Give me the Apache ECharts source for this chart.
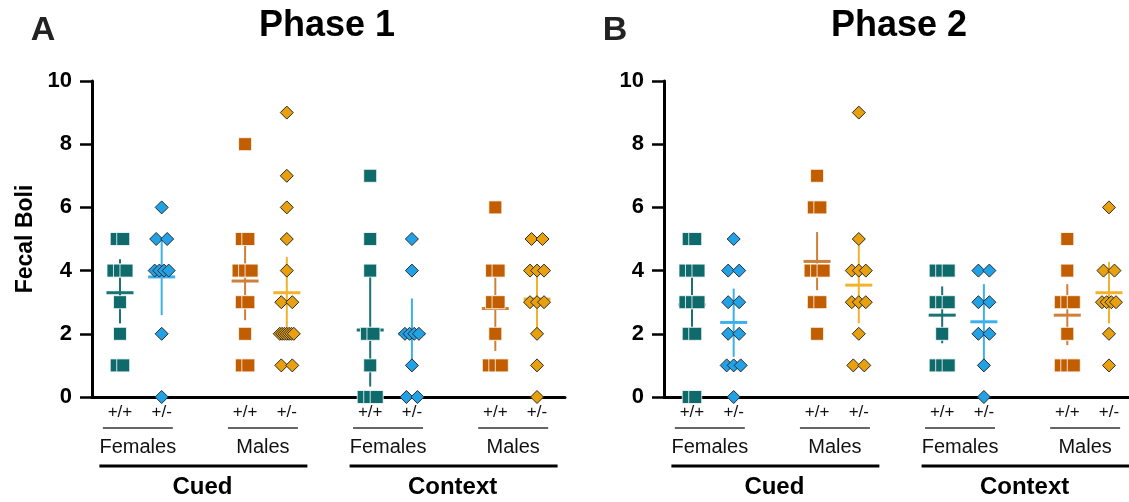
<!DOCTYPE html>
<html>
<head>
<meta charset="utf-8">
<script src="https://cdn.jsdelivr.net/npm/echarts@6/dist/echarts.min.js"></script>
<style>
html,body{margin:0;padding:0;background:#fff;}
#chart{width:1129px;height:502px;}
</style>
</head>
<body>
<div id="chart"></div>
<script>
// ---------------- DATA ----------------
const positions = [0, 1, 3, 4, 6, 7, 9, 10];
const tickLabels = ['+/+', '+/-', '+/+', '+/-', '+/+', '+/-', '+/+', '+/-'];
const sexLabels = ['Females', 'Males', 'Females', 'Males'];
const sexCenters = [0.5, 3.5, 6.5, 9.5];
const protocolLabels = ['Cued', 'Context'];
const protocolCenters = [2, 8];
const yTicks = [0, 2, 4, 6, 8, 10];

// groups: Cued F +/+, Cued F +/-, Cued M +/+, Cued M +/-, Context F +/+, Context F +/-, Context M +/+, Context M +/-
const phase1Points = [
  [5, 5, 4, 4, 4, 3, 2, 1, 1],
  [6, 5, 5, 4, 4, 4, 4, 2, 0],
  [8, 5, 5, 4, 4, 4, 3, 3, 2, 1, 1],
  [9, 7, 6, 5, 4, 3, 3, 2, 2, 2, 2, 2, 2, 2, 1, 1],
  [7, 5, 4, 2, 2, 1, 0, 0, 0],
  [5, 4, 2, 2, 2, 2, 1, 0, 0],
  [6, 4, 4, 3, 3, 2, 1, 1, 1],
  [5, 5, 4, 4, 4, 3, 3, 3, 2, 1, 0]
];
const phase1Mean = [3.3, 3.8, 3.67, 3.3, 2.12, 2.0, 2.8, 3.1];
const phase1Lo   = [2.33, 2.59, 2.43, 2.2, 0.33, 0.9, 1.46, 2.1];
const phase1Hi   = [4.36, 4.96, 4.78, 4.43, 3.8, 3.12, 4.1, 4.05];

const phase2Points = [
  [5, 5, 4, 4, 4, 3, 3, 3, 2, 2, 0, 0],
  [5, 4, 4, 3, 3, 2, 2, 1, 1, 1, 0],
  [7, 6, 6, 4, 4, 4, 3, 3, 2],
  [9, 5, 4, 4, 4, 3, 3, 3, 2, 1, 1],
  [4, 4, 4, 3, 3, 3, 2, 1, 1, 1],
  [4, 4, 3, 3, 2, 2, 1, 0],
  [5, 4, 3, 3, 3, 2, 1, 1, 1],
  [6, 4, 4, 3, 3, 3, 3, 2, 1]
];
const phase2Mean = [2.92, 2.36, 4.29, 3.54, 2.59, 2.38, 2.59, 3.3];
const phase2Lo   = [2.0, 1.27, 3.38, 2.33, 1.7, 1.07, 1.64, 2.33];
const phase2Hi   = [3.8, 3.43, 5.22, 4.8, 3.5, 3.57, 3.57, 4.27];

// ---------------- STYLE ----------------
const groupStyle = [0, 1, 2, 3, 0, 1, 2, 3];
const styles = [
  { symbol: 'rect',    fill: '#0f6b6b', border: '#ffffff', bw: 0.8, line: '#1b7272' },
  { symbol: 'diamond', fill: '#22a2e6', border: '#2b2b2b', bw: 1,   line: '#3cb0ec' },
  { symbol: 'rect',    fill: '#c25e00', border: '#ffffff', bw: 0.8, line: '#d08036' },
  { symbol: 'diamond', fill: '#e8a00c', border: '#2b2b2b', bw: 1,   line: '#f3b22c' }
];
const pxPerUnit = 41.7;
const FONT = '"Liberation Sans", Arial, Helvetica, sans-serif';

function jitter(values, isDiamond) {
  const counts = {}, seen = {};
  values.forEach(v => { counts[v] = (counts[v] || 0) + 1; });
  return values.map(v => {
    const n = counts[v];
    const k = seen[v] || 0; seen[v] = k + 1;
    if (n === 1) return 0;
    let sp;
    if (isDiamond) sp = n === 2 ? 11 : n === 3 ? 7 : 14 / (n - 1);
    else sp = n <= 3 ? 6.5 : 20 / (n - 1);
    return ((k - (n - 1) / 2) * sp) / pxPerUnit;
  });
}

function panelSeries(pIdx, points, mean, lo, hi) {
  const out = [];
  out.push({
    type: 'custom',
    xAxisIndex: pIdx, yAxisIndex: pIdx,
    z: 2,
    clip: false,
    encode: { x: 0, y: [1, 2, 3] },
    data: positions.map((p, i) => [p, mean[i], lo[i], hi[i], i]),
    renderItem: function (params, api) {
      const x = api.value(0);
      const m = api.coord([x, api.value(1)]);
      const l = api.coord([x, api.value(2)]);
      const h = api.coord([x, api.value(3)]);
      const col = styles[groupStyle[api.value(4)]].line;
      return {
        type: 'group',
        children: [
          { type: 'line', shape: { x1: m[0], y1: l[1], x2: m[0], y2: h[1] }, style: { stroke: col, lineWidth: 2 } },
          { type: 'line', shape: { x1: m[0] - 13.5, y1: m[1], x2: m[0] + 13.5, y2: m[1] }, style: { stroke: col, lineWidth: 3 } }
        ]
      };
    }
  });
  points.forEach((vals, i) => {
    const st = styles[groupStyle[i]];
    const isD = st.symbol === 'diamond';
    const off = jitter(vals, isD);
    out.push({
      type: 'scatter',
      xAxisIndex: pIdx, yAxisIndex: pIdx,
      z: 4,
      clip: false,
      symbol: st.symbol,
      symbolSize: 13,
      itemStyle: { color: st.fill, borderColor: st.border, borderWidth: st.bw, opacity: 1 },
      emphasis: { disabled: true },
      data: vals.map((v, k) => [positions[i] + off[k], v])
    });
  });
  out.push({
    type: 'custom',
    xAxisIndex: pIdx, yAxisIndex: pIdx,
    clip: false,
    silent: true,
    encode: { x: 0, y: 1 },
    data: sexCenters.map((c, i) => [c, 0, i]),
    renderItem: function (params, api) {
      const b = api.coord([api.value(0), 0]);
      const cx = b[0] - 3;
      return {
        type: 'group',
        children: [
          { type: 'line', shape: { x1: cx - 35, y1: b[1] + 31, x2: cx + 35, y2: b[1] + 31 }, style: { stroke: '#333', lineWidth: 1.6 } },
          { type: 'text', style: { text: sexLabels[api.value(2)], x: cx, y: b[1] + 50, align: 'center', verticalAlign: 'middle', fill: '#111', font: '20px ' + FONT } }
        ]
      };
    }
  });
  out.push({
    type: 'custom',
    xAxisIndex: pIdx, yAxisIndex: pIdx,
    clip: false,
    silent: true,
    encode: { x: 0, y: 1 },
    data: protocolCenters.map((c, i) => [c, 0, i]),
    renderItem: function (params, api) {
      const b = api.coord([api.value(0), 0]);
      const cx = b[0];
      return {
        type: 'group',
        children: [
          { type: 'line', shape: { x1: cx - 104, y1: b[1] + 69, x2: cx + 104, y2: b[1] + 69 }, style: { stroke: '#000', lineWidth: 3 } },
          { type: 'text', style: { text: protocolLabels[api.value(2)], x: cx - 1, y: b[1] + 90, align: 'center', verticalAlign: 'middle', fill: '#000', font: 'bold 24px ' + FONT } }
        ]
      };
    }
  });
  return out;
}

function xAxisDef(gridIndex, max) {
  return {
    type: 'value', gridIndex: gridIndex, min: -0.671, max: max,
    axisLine: { show: true, onZero: false, lineStyle: { color: '#000', width: 3 } },
    axisTick: { show: false },
    splitLine: { show: false },
    axisLabel: {
      customValues: positions,
      margin: 7,
      color: '#111',
      fontFamily: FONT,
      fontSize: 17,
      formatter: function (v) {
        const i = positions.indexOf(Math.round(v));
        return i >= 0 ? tickLabels[i] : '';
      }
    }
  };
}
function yAxisDef(gridIndex, name) {
  return {
    type: 'value', gridIndex: gridIndex, min: 0, max: 10, interval: 2,
    name: name,
    nameLocation: 'middle',
    nameGap: 55,
    nameTextStyle: { fontFamily: FONT, fontWeight: 'bold', fontSize: 23, color: '#000' },
    axisLine: { show: true, onZero: false, lineStyle: { color: '#000', width: 3 } },
    axisTick: { show: true, length: 12, lineStyle: { color: '#000', width: 2.5 } },
    splitLine: { show: false },
    axisLabel: {
      customValues: yTicks,
      margin: 20,
      color: '#000',
      fontFamily: FONT,
      fontWeight: 'bold',
      fontSize: 22
    }
  };
}

const chart = echarts.init(document.getElementById('chart'), null, { renderer: 'canvas' });
chart.setOption({
  animation: false,
  backgroundColor: '#fff',
  grid: [
    { left: 92, top: 81, width: 473, height: 316 },
    { left: 664, top: 81, width: 465, height: 316 }
  ],
  xAxis: [xAxisDef(0, 10.671), xAxisDef(1, 10.48)],
  yAxis: [yAxisDef(0, 'Fecal Boli'), yAxisDef(1, '')],
  graphic: [
    { type: 'text', x: 43, y: 31, style: { text: 'A', align: 'center', verticalAlign: 'middle', fill: '#222', font: 'bold 34px ' + FONT } },
    { type: 'text', x: 327, y: 26, style: { text: 'Phase 1', align: 'center', verticalAlign: 'middle', fill: '#000', font: 'bold 36px ' + FONT } },
    { type: 'text', x: 615, y: 31, style: { text: 'B', align: 'center', verticalAlign: 'middle', fill: '#222', font: 'bold 34px ' + FONT } },
    { type: 'text', x: 899, y: 26, style: { text: 'Phase 2', align: 'center', verticalAlign: 'middle', fill: '#000', font: 'bold 36px ' + FONT } }
  ],
  series: [].concat(
    panelSeries(0, phase1Points, phase1Mean, phase1Lo, phase1Hi),
    panelSeries(1, phase2Points, phase2Mean, phase2Lo, phase2Hi)
  )
});
</script>
</body>
</html>
